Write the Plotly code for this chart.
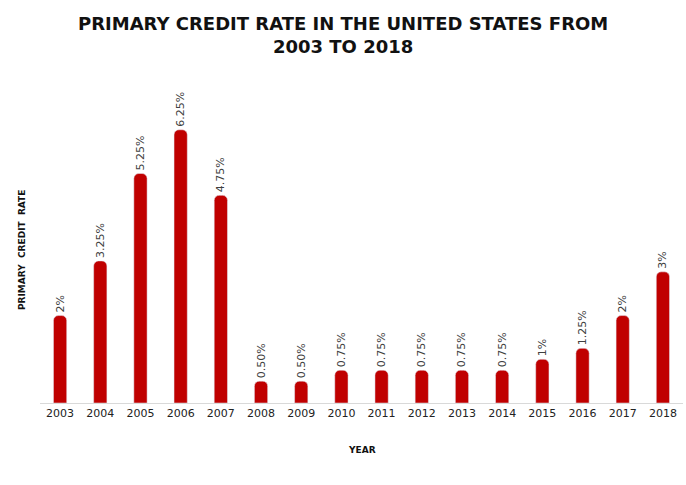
import plotly.graph_objects as go

years = ["2003", "2004", "2005", "2006", "2007", "2008", "2009", "2010",
         "2011", "2012", "2013", "2014", "2015", "2016", "2017", "2018"]
rates = [2.0, 3.25, 5.25, 6.25, 4.75, 0.5, 0.5, 0.75,
         0.75, 0.75, 0.75, 0.75, 1.0, 1.25, 2.0, 3.0]
labels = ["2%", "3.25%", "5.25%", "6.25%", "4.75%", "0.50%", "0.50%", "0.75%",
          "0.75%", "0.75%", "0.75%", "0.75%", "1%", "1.25%", "2%", "3%"]
title_text = "PRIMARY CREDIT RATE IN THE UNITED STATES FROM<br>2003 TO 2018"

fig = go.Figure(go.Bar(
    x=years, y=rates, text=labels,
    textposition="outside", textangle=-90,
    constraintext="none",
    textfont=dict(family="DejaVu Sans", size=11, color="#404040"),
    marker=dict(color="#C00000", cornerradius=5),
    cliponaxis=False,
))

fig.update_layout(
    width=686, height=485,
    margin=dict(l=40, r=3, t=97, b=82),
    paper_bgcolor="white", plot_bgcolor="white",
    bargap=0.67,
    showlegend=False,
    uniformtext=dict(minsize=11, mode="show"),
    xaxis=dict(
        showline=True, linecolor="#D9D9D9", linewidth=1,
        ticks="", showgrid=False,
        tickfont=dict(family="DejaVu Sans", size=11, color="#222222"),
    ),
    yaxis=dict(
        range=[0, 7], showticklabels=False, showgrid=False,
        zeroline=False, showline=False, ticks="",
    ),
    annotations=[
        dict(text="<b>" + title_text + "</b>", x=0.471, xref="paper",
             y=1.201, yref="paper", xanchor="center", yanchor="middle",
             showarrow=False, align="center",
             font=dict(family="DejaVu Sans", size=18, color="#111111")),
        dict(text="<b>YEAR</b>", x=0.5, xref="paper", y=-0.155, yref="paper",
             xanchor="center", yanchor="middle", showarrow=False,
             font=dict(family="DejaVu Sans", size=9, color="#111111")),
        dict(text="<b>PRIMARY  CREDIT  RATE</b>", x=0, xref="paper", xshift=-18,
             y=0.5, yref="paper", xanchor="center", yanchor="middle",
             textangle=-90, showarrow=False,
             font=dict(family="DejaVu Sans", size=9, color="#111111")),
    ],
)

fig.write_html("out.html", config={"displayModeBar": False},
               post_script="document.body.style.margin='0';")
